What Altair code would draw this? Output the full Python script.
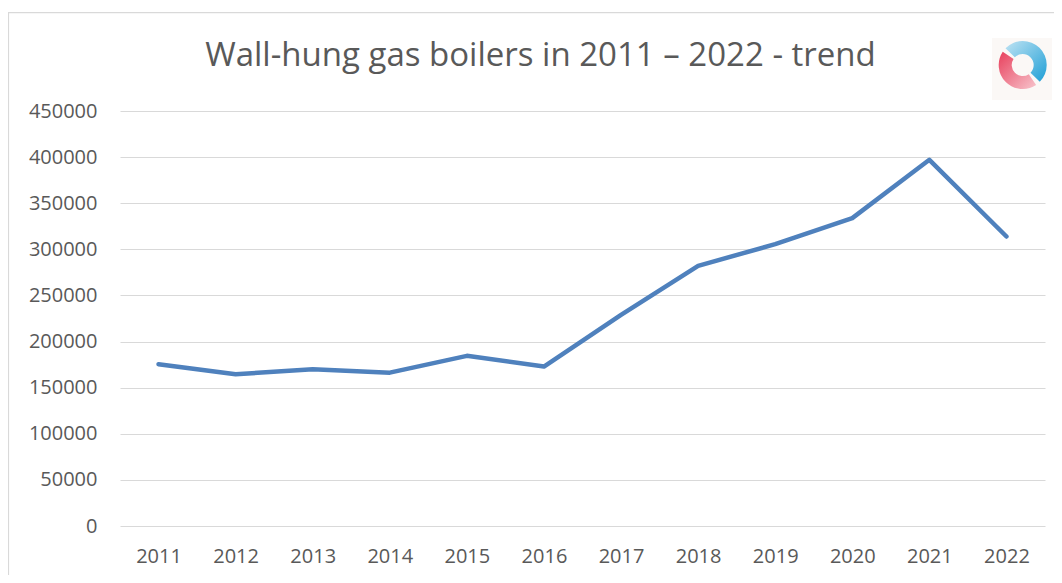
import altair as alt
import pandas as pd

years = ["2011", "2012", "2013", "2014", "2015", "2016",
         "2017", "2018", "2019", "2020", "2021", "2022"]
boilers = [175500, 164600, 170000, 166300, 184500, 172900,
           229000, 282100, 305600, 333800, 397100, 313900]
y_ticks = [0, 50000, 100000, 150000, 200000, 250000, 300000, 350000, 400000, 450000]
title_text = "Wall-hung gas boilers in 2011 \u2013 2022 - trend"

df = pd.DataFrame({"year": years, "value": boilers})

TEXT = "#595959"
FONT = "Open Sans"

line = alt.Chart(df).mark_line(
    color="#4f81bd", strokeWidth=4.5, strokeCap="round", strokeJoin="round"
).encode(
    x=alt.X("year:O", sort=years,
            scale=alt.Scale(type="point", padding=0.5),
            axis=alt.Axis(title=None, labelAngle=0, ticks=False, domain=False,
                          labelPadding=20, labelFontSize=20, labelColor=TEXT,
                          labelFont=FONT, grid=False)),
    y=alt.Y("value:Q", scale=alt.Scale(domain=[0, 450000], nice=False),
            axis=alt.Axis(title=None, values=y_ticks, format="d", ticks=False,
                          domain=False, labelPadding=23, labelFontSize=20,
                          labelColor=TEXT, labelFont=FONT, grid=True,
                          gridColor="#d9d9d9", gridWidth=1.2)),
)

deco = alt.Data(values=[{"k": 1}])

border = alt.Chart(deco).mark_rect(fill=None, stroke="#d9d9d9", strokeWidth=1.2).encode(
    x=alt.value(-111.5), x2=alt.value(960), y=alt.value(-98.3), y2=alt.value(520)
)

logo_bg = alt.Chart(deco).mark_rect(fill="#fbf8f6").encode(
    x=alt.value(872), x2=alt.value(932), y=alt.value(-73), y2=alt.value(-11)
)

blue_arc = alt.Chart(deco).mark_arc(
    innerRadius=11, outerRadius=24,
    fill={"gradient": "linear", "x1": 0, "y1": 0, "x2": 1, "y2": 1,
          "stops": [{"offset": 0, "color": "#bfe3f3"}, {"offset": 1, "color": "#1f9fd6"}]}
).encode(
    x=alt.value(902.7), y=alt.value(-46), theta=alt.value(-0.8), theta2=alt.value(2.35)
)

red_arc = alt.Chart(deco).mark_arc(
    innerRadius=11, outerRadius=24,
    fill={"gradient": "linear", "x1": 0, "y1": 0, "x2": 1, "y2": 1,
          "stops": [{"offset": 0, "color": "#e8405c"}, {"offset": 1, "color": "#f7c4cc"}]}
).encode(
    x=alt.value(902.7), y=alt.value(-46), theta=alt.value(2.55), theta2=alt.value(5.3)
)

chart = alt.layer(border, logo_bg, blue_arc, red_arc, line).properties(
    width=925, height=415,
    padding={"left": 112, "top": 103, "right": 9, "bottom": 49},
    autosize=alt.AutoSizeParams(type="none"),
    title=alt.Title(title_text, fontSize=33, font=FONT, color=TEXT, fontWeight="normal",
                    anchor="middle", dx=-42, dy=87, baseline="alphabetic", offset=0),
    background="white",
).configure_view(stroke=None)

chart.save("out.html", embed_options={"renderer": "svg", "actions": False})
